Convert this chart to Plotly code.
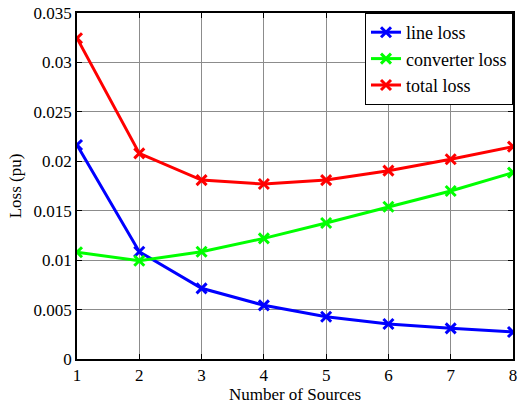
import plotly.graph_objects as go

# Number of sources on the x axis
sources = [1, 2, 3, 4, 5, 6, 7, 8]

# Losses in per unit
line_loss = [0.02165, 0.01085, 0.00715, 0.00543, 0.00428, 0.00354, 0.0031, 0.00273]
converter_loss = [0.0108, 0.00994, 0.01085, 0.0122, 0.01376, 0.0154, 0.0170, 0.01885]
total_loss = [0.03245, 0.0208, 0.0181, 0.0177, 0.0181, 0.01905, 0.0202, 0.02148]

y_ticks = [0, 0.005, 0.01, 0.015, 0.02, 0.025, 0.03, 0.035]
y_tick_labels = ["0", "0.005", "0.01", "0.015", "0.02", "0.025", "0.03", "0.035"]

series = [
    ("line loss", line_loss, "#0000ff"),
    ("converter loss", converter_loss, "#00ff00"),
    ("total loss", total_loss, "#ff0000"),
]

FONT = "Liberation Serif"

fig = go.Figure()
for name, values, color in series:
    fig.add_trace(go.Scatter(
        x=sources, y=values, name=name, mode="lines+markers",
        line=dict(color=color, width=3),
        marker=dict(symbol="x-thin-open", size=10, color=color,
                    line=dict(color=color, width=3)),
    ))

axis_common = dict(
    showline=True, linecolor="black", linewidth=1.5, mirror="ticks",
    ticks="inside", ticklen=5, tickcolor="black",
    showgrid=True, gridcolor="#8c8c8c", gridwidth=1,
    zeroline=False, ticklabeloverflow="allow",
    tickfont=dict(family=FONT, size=17, color="black"),
)

fig.update_xaxes(range=[1, 8], tickvals=sources,
                 title=dict(text="Number of Sources", standoff=3,
                            font=dict(family=FONT, size=17, color="black")),
                 **axis_common)
fig.update_yaxes(range=[0, 0.035], tickvals=y_ticks, ticktext=y_tick_labels,
                 title=dict(text="Loss (pu)", standoff=8,
                            font=dict(family=FONT, size=17, color="black")),
                 **axis_common)

fig.update_layout(
    width=518, height=410,
    margin=dict(l=77, r=1, t=13, b=51),
    plot_bgcolor="white", paper_bgcolor="white",
    font=dict(family=FONT, color="black"),
    legend=dict(x=1, y=1, xanchor="right", yanchor="top",
                bgcolor="white", bordercolor="black", borderwidth=1,
                font=dict(family=FONT, size=18, color="black"),
                itemwidth=30, tracegroupgap=0),
    showlegend=True,
)

fig.write_html("out.html")
